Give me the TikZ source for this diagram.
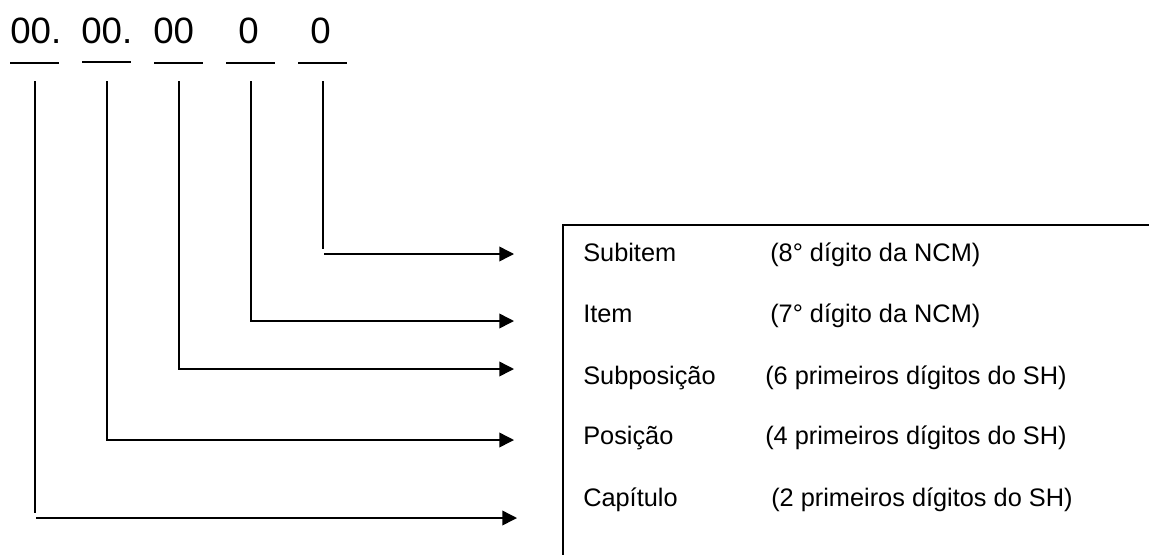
\documentclass[tikz,border=0pt]{standalone}
\usepackage{fontspec}
\setmainfont{Liberation Sans}
\usetikzlibrary{arrows.meta}
\begin{document}
\begin{tikzpicture}[x=0.75pt,y=-0.75pt,
  digit/.style={anchor=base west,inner sep=0pt,font=\fontsize{27.5}{32}\selectfont},
  lbl/.style={anchor=base west,inner sep=0pt,font=\fontsize{19}{23}\selectfont},
  uline/.style={line width=1.1pt},
  conn/.style={line width=1.1pt},
  arr/.style={line width=1.1pt,-{Triangle[length=11pt,width=11pt]}},
  boxline/.style={line width=1.5pt}]
\useasboundingbox (0,0) rectangle (1149,554);
% digit groups
\node[digit] (g1) at (10,43) {00.};
\node[digit] (g2) at (81,43) {00.};
\node[digit] (g3) at (153,43) {00};
\node[digit] (g4) at (238,43) {0};
\node[digit] (g5) at (310,43) {0};
% underlines
\coordinate (u1a) at (10,63);  \coordinate (u1b) at (59,63);
\coordinate (u2a) at (82,62);  \coordinate (u2b) at (131,62);
\coordinate (u3a) at (154,63); \coordinate (u3b) at (203,63);
\coordinate (u4a) at (226,63); \coordinate (u4b) at (275,63);
\coordinate (u5a) at (298,63); \coordinate (u5b) at (347,63);
\draw[uline] (u1a) -- (u1b);
\draw[uline,line width=1.5pt] (u2a) -- (u2b);
\draw[uline] (u3a) -- (u3b);
\draw[uline] (u4a) -- (u4b);
\draw[uline] (u5a) -- (u5b);
% connector coordinates
\coordinate (t1) at (35,81);  \coordinate (b1) at (35,513);
\coordinate (h1) at (36,518); \coordinate (e1) at (517,518);
\coordinate (t2) at (107,81); \coordinate (b2) at (107,440); \coordinate (e2) at (514,440);
\coordinate (t3) at (179,81); \coordinate (b3) at (179,369); \coordinate (e3) at (514,369);
\coordinate (t4) at (251,81); \coordinate (b4) at (251,321); \coordinate (e4) at (514,321);
\coordinate (t5) at (323,81); \coordinate (b5) at (323,249);
\coordinate (h5) at (324,254); \coordinate (e5) at (514,254);
% connectors
\draw[conn] (t1) -- (b1);
\draw[arr] (h1) -- (e1);
\draw[arr] (t2) -- (b2) -- (e2);
\draw[arr] (t3) -- (b3) -- (e3);
\draw[arr] (t4) -- (b4) -- (e4);
\draw[conn] (t5) -- (b5);
\draw[arr] (h5) -- (e5);
% box
\coordinate (bx1) at (563,556);
\coordinate (bx2) at (563,225);
\coordinate (bx3) at (1151,225);
\draw[boxline] (bx1) -- (bx2) -- (bx3);
% labels
\node[lbl] (n1) at (583,261) {Subitem};
\node[lbl] (d1) at (770,261) {(8° dígito da NCM)};
\node[lbl] (n2) at (583,322) {Item};
\node[lbl] (d2) at (770,322) {(7° dígito da NCM)};
\node[lbl] (n3) at (583,384) {Subposição};
\node[lbl] (d3) at (765,384) {(6 primeiros dígitos do SH)};
\node[lbl] (n4) at (583,444) {Posição};
\node[lbl] (d4) at (765,444) {(4 primeiros dígitos do SH)};
\node[lbl] (n5) at (583,506) {Capítulo};
\node[lbl] (d5) at (771,506) {(2 primeiros dígitos do SH)};
\end{tikzpicture}
\end{document}
